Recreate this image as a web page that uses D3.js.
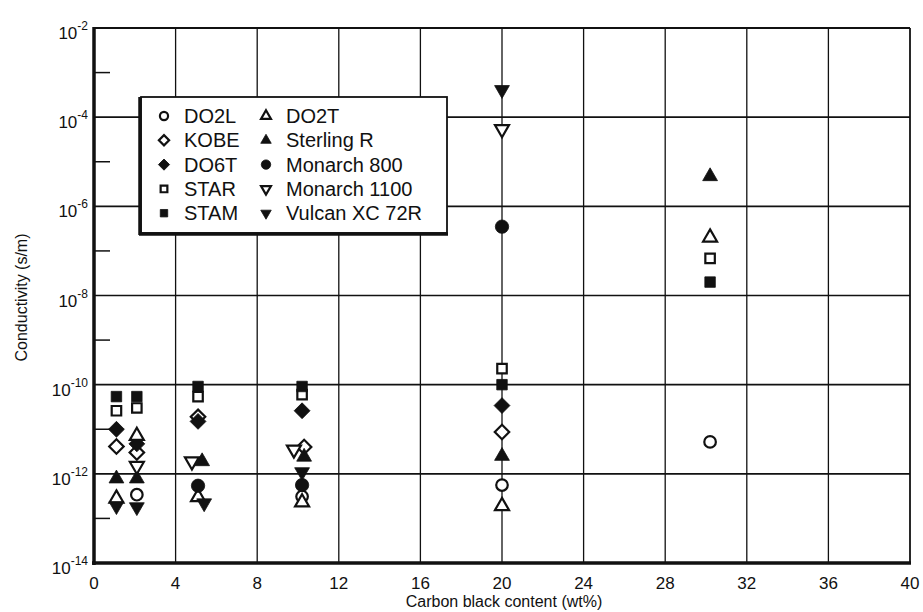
<!DOCTYPE html>
<html>
<head>
<meta charset="utf-8">
<script src="https://cdn.jsdelivr.net/npm/d3@7"></script>
<style>
  body { margin: 0; background: #fff; }
  text { font-family: "Liberation Sans", Arial, sans-serif; fill: #111; }
</style>
</head>
<body>
<div id="chart"></div>
<script>
"use strict";

// series: [wt%, conductivity s/m]
var DO2L        = [[2.1, 3.4e-13], [10.2, 3.1e-13], [20, 5.6e-13], [30.2, 5.2e-12]];
var KOBE        = [[1.1, 4.1e-12], [2.1, 3.0e-12], [5.1, 1.9e-11], [10.3, 4.0e-12], [20, 8.7e-12]];
var DO6T        = [[1.1, 1.0e-11], [2.1, 4.7e-12], [5.1, 1.5e-11], [10.2, 2.6e-11], [20, 3.4e-11]];
var STAR        = [[1.1, 2.6e-11], [2.1, 3.0e-11], [5.1, 5.4e-11], [10.2, 6.0e-11], [20, 2.3e-10], [30.2, 6.8e-8]];
var STAM        = [[1.1, 5.4e-11], [2.1, 5.4e-11], [5.1, 9.1e-11], [10.2, 9.1e-11], [20, 1.0e-10], [30.2, 2.0e-8]];
var DO2T        = [[1.1, 2.8e-13], [2.1, 7.1e-12], [5.1, 3.0e-13], [10.2, 2.3e-13], [20, 1.9e-13], [30.2, 2.0e-7]];
var SterlingR   = [[1.1, 7.8e-13], [2.1, 7.8e-13], [5.3, 1.9e-12], [10.3, 2.4e-12], [20, 2.5e-12], [30.2, 4.7e-6]];
var Monarch800  = [[5.1, 5.4e-13], [10.2, 5.6e-13], [20, 3.5e-7]];
var Monarch1100 = [[2.1, 1.5e-12], [4.8, 1.9e-12], [9.8, 3.5e-12], [20, 5.4e-5]];
var Vulcan      = [[1.1, 1.9e-13], [2.1, 1.8e-13], [5.4, 2.2e-13], [10.2, 1.1e-12], [20, 4.1e-4]];

var seriesNames = ["DO2L", "KOBE", "DO6T", "STAR", "STAM",
                   "DO2T", "Sterling R", "Monarch 800", "Monarch 1100", "Vulcan XC 72R"];
var seriesData  = [DO2L, KOBE, DO6T, STAR, STAM, DO2T, SterlingR, Monarch800, Monarch1100, Vulcan];

var xTicks = [0, 4, 8, 12, 16, 20, 24, 28, 32, 36, 40];
var yExponents = [-2, -4, -6, -8, -10, -12, -14];
var yMinorExponents = [-3, -5, -7, -9, -11, -13];

// marker look per series: shape, filled, rotation
var markerStyle = [
  {shape: d3.symbolCircle,   fill: false, rot: 0,   size: 105},
  {shape: d3.symbolSquare,   fill: false, rot: 45,  size: 105},
  {shape: d3.symbolSquare,   fill: true,  rot: 45,  size: 125},
  {shape: d3.symbolSquare,   fill: false, rot: 0,   size: 90},
  {shape: d3.symbolSquare,   fill: true,  rot: 0,   size: 110},
  {shape: d3.symbolTriangle, fill: false, rot: 0,   size: 85},
  {shape: d3.symbolTriangle, fill: true,  rot: 0,   size: 95},
  {shape: d3.symbolCircle,   fill: true,  rot: 0,   size: 140},
  {shape: d3.symbolTriangle, fill: false, rot: 180, size: 85},
  {shape: d3.symbolTriangle, fill: true,  rot: 180, size: 95}
];

var width = 923, height = 612;
var margin = {top: 28, right: 13, bottom: 49, left: 94};
var w = width - margin.left - margin.right,
    h = height - margin.top - margin.bottom;

var svg = d3.select("#chart").append("svg")
    .attr("width", width)
    .attr("height", height);

var g = svg.append("g")
    .attr("transform", "translate(" + margin.left + "," + margin.top + ")");

var x = d3.scaleLinear().domain([0, 40]).range([0, w]);
var y = d3.scaleLog().domain([1e-14, 1e-2]).range([h, 0]);

// grid
g.append("g").selectAll("line")
  .data(xTicks.slice(1, -1))
  .enter().append("line")
    .attr("x1", d => x(d)).attr("x2", d => x(d))
    .attr("y1", 0).attr("y2", h)
    .attr("stroke", "#111").attr("stroke-width", 1.3);

g.append("g").selectAll("line")
  .data(yExponents.slice(1, -1))
  .enter().append("line")
    .attr("x1", 0).attr("x2", w)
    .attr("y1", d => y(Math.pow(10, d))).attr("y2", d => y(Math.pow(10, d)))
    .attr("stroke", "#111").attr("stroke-width", 1.6);

// minor ticks on the left
g.append("g").selectAll("line")
  .data(yMinorExponents)
  .enter().append("line")
    .attr("x1", 0).attr("x2", 16)
    .attr("y1", d => y(Math.pow(10, d))).attr("y2", d => y(Math.pow(10, d)))
    .attr("stroke", "#111").attr("stroke-width", 1.5);

// frame
g.append("line").attr("x1", 0).attr("x2", w).attr("y1", 0).attr("y2", 0)
  .attr("stroke", "#111").attr("stroke-width", 2);
g.append("line").attr("x1", w).attr("x2", w).attr("y1", 0).attr("y2", h)
  .attr("stroke", "#111").attr("stroke-width", 1.8);
g.append("line").attr("x1", 0).attr("x2", 0).attr("y1", -1).attr("y2", h + 2)
  .attr("stroke", "#111").attr("stroke-width", 3.5);
g.append("line").attr("x1", -2).attr("x2", w + 1).attr("y1", h).attr("y2", h)
  .attr("stroke", "#111").attr("stroke-width", 3.5);

// x tick labels
g.append("g").selectAll("text")
  .data(xTicks)
  .enter().append("text")
    .attr("x", d => x(d))
    .attr("y", h + 26)
    .attr("text-anchor", "middle")
    .style("font-size", "17px")
    .text(d => d);

// y tick labels 10^n
var yl = g.append("g").selectAll("text")
  .data(yExponents)
  .enter().append("text")
    .attr("x", -6)
    .attr("y", d => y(Math.pow(10, d)) + 11)
    .attr("text-anchor", "end")
    .style("font-size", "17px");
yl.append("tspan").text("10");
yl.append("tspan")
  .attr("dy", -9)
  .style("font-size", "12px")
  .text(d => "-" + Math.abs(d));

// axis titles
svg.append("text")
  .attr("x", margin.left + w / 2 + 2)
  .attr("y", height - 5)
  .attr("text-anchor", "middle")
  .style("font-size", "16px")
  .text("Carbon black content (wt%)");

svg.append("text")
  .attr("transform", "translate(27," + (margin.top + h / 2 + 2) + ") rotate(-90)")
  .attr("text-anchor", "middle")
  .style("font-size", "16px")
  .text("Conductivity (s/m)");

// points
function drawMarker(sel, st, scale) {
  sel.attr("d", d3.symbol().type(st.shape).size(st.size * scale)())
    .attr("fill", st.fill ? "#111" : "#fff")
    .attr("stroke", "#111")
    .attr("stroke-width", st.fill ? 0.8 : 2.2);
}

seriesData.forEach((data, i) => {
  var st = markerStyle[i];
  g.append("g").selectAll("path")
    .data(data)
    .enter().append("path")
      .attr("transform", d => "translate(" + x(d[0]) + "," + y(d[1]) + ") rotate(" + st.rot + ")")
      .call(drawMarker, st, 1);
});

// legend
var lg = svg.append("g").attr("transform", "translate(141,97)");
var lgW = 306, lgH = 136;
lg.append("rect").attr("width", lgW).attr("height", lgH)
  .attr("fill", "#fff").attr("stroke", "#111").attr("stroke-width", 1.8);
lg.append("line").attr("x1", -1).attr("x2", -1).attr("y1", 0).attr("y2", lgH + 2)
  .attr("stroke", "#111").attr("stroke-width", 3.5);
lg.append("line").attr("x1", -2).attr("x2", lgW + 1).attr("y1", lgH + 1).attr("y2", lgH + 1)
  .attr("stroke", "#111").attr("stroke-width", 3.5);

seriesNames.forEach((name, i) => {
  var col = Math.floor(i / 5), row = i % 5;
  var cx = 23 + col * 102, cy = 19 + row * 24.3;
  var st = markerStyle[i];
  lg.append("path")
    .attr("transform", "translate(" + cx + "," + cy + ") rotate(" + st.rot + ")")
    .call(drawMarker, st, 0.5);
  lg.append("text")
    .attr("x", cx + 20)
    .attr("y", cy + 7)
    .style("font-size", "20px")
    .text(name);
});
</script>
</body>
</html>
